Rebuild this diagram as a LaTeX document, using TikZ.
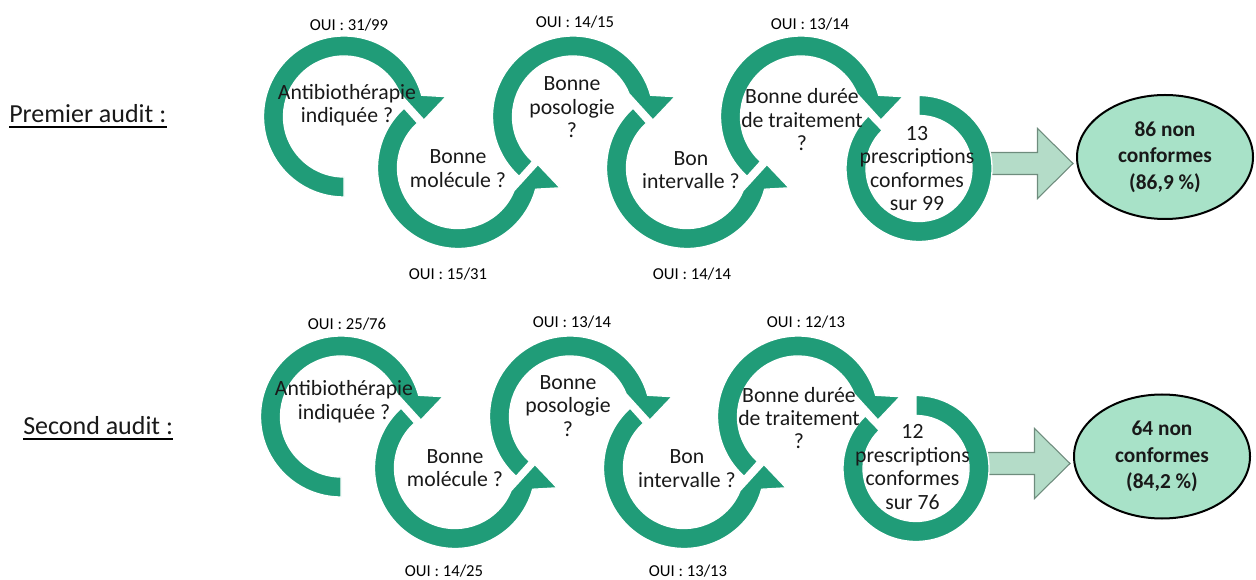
\documentclass[tikz,border=0pt]{standalone}
\usepackage{fontspec}
\setmainfont{Carlito}
\usepackage{tikz}
\usetikzlibrary{positioning, shapes}
\definecolor{ringgreen}{RGB}{32,156,120}
\definecolor{lightgreen}{RGB}{168,226,200}
\definecolor{arrowgreen}{RGB}{180,220,200}
\definecolor{arrowline}{RGB}{110,140,125}
\definecolor{textgray}{RGB}{25,25,25}

\begin{document}
\begin{tikzpicture}[x=0.75pt, y=0.75pt,
	ring/.style={fill=ringgreen, draw=white, line width=1pt},
	question/.style={align=center, text=textgray, font=\fontsize{16.3}{17.6}\selectfont, inner sep=0pt},
	yes/.style={text=black, font=\fontsize{12.5}{14}\selectfont, inner sep=0pt},
	audit/.style={text=textgray, font=\fontsize{19.5}{22}\selectfont, inner sep=0pt},
	result/.style={ellipse, draw=black, line width=1.5pt, fill=lightgreen, align=center, text=textgray,
		font=\fontsize{16}{20}\selectfont\bfseries, minimum width=132pt, minimum height=93pt, inner sep=0pt},
	bigarrow/.style={fill=arrowgreen, draw=arrowline, line width=0.8pt}]

\useasboundingbox (0,0) rectangle (1256,-580);

\def \ro{80.5} % outer radius
\def \ri{60.5} % inner radius
\def \rh{104}  % arrow head, outer corner
\def \rt{80}   % arrow head, tip

% #1 centre, #2 angle of the cut end
\newcommand{\cwring}[2]{
	\fill[ring, shift={(#1)}] (#2:\ro) arc[start angle=#2, end angle=15.3, radius=\ro]
		-- (11:\rh) -- (-2.5:\rt) -- (22:\ri) arc[start angle=22, end angle=#2, radius=\ri] -- cycle;
}
\newcommand{\ccwring}[2]{
	\fill[ring, shift={(#1)}] (#2:\ro) arc[start angle=#2, end angle=344.7, radius=\ro]
		-- (349:\rh) -- (362.5:\rt) -- (338:\ri) arc[start angle=338, end angle=#2, radius=\ri] -- cycle;
}

\foreach \row/\dx/\dy in {1/0/0, 2/-3/300} {
	\coordinate (c\row-1) at (344+\dx, -116.5-\dy);
	\coordinate (c\row-2) at (458+\dx, -168-\dy);
	\coordinate (c\row-3) at (573+\dx, -116.5-\dy);
	\coordinate (c\row-4) at (687+\dx, -168-\dy);
	\coordinate (c\row-5) at (801+\dx, -116.5-\dy);
	\coordinate (c\row-6) at (919+\dx, -168.5-\dy);
	\draw[bigarrow, shift={(c\row-6)}] (70,16) -- (118.5,16) -- (118.5,40) -- (154,5)
		-- (118.5,-30) -- (118.5,-6) -- (70,-6) -- cycle; % block arrow
	\cwring{c\row-1}{270}
	\ccwring{c\row-2}{132}
	\cwring{c\row-3}{228}
	\ccwring{c\row-4}{132}
	\cwring{c\row-5}{228}
	\fill[ring, shift={(c\row-6)}] (90:73) arc[start angle=90, end angle=-226, radius=73]
		-- (-226:53) arc[start angle=-226, end angle=90, radius=53] -- cycle; % last ring
}

% first audit
\node[audit, anchor=base west] (p1) at (9,-123) {Premier audit :};
\draw[line width=1.5pt] ([yshift=-3pt]p1.base west) -- ([yshift=-3pt]p1.base east);

\node[question] (t1-1) at (347,-105) {Antibiothérapie\\indiquée ?};
\node[question] (t1-2) at (458,-168.5) {Bonne\\molécule ?};
\node[question] (t1-3) at (572,-107.5) {Bonne\\posologie\\?};
\node[question] (t1-4) at (691,-170) {Bon\\intervalle ?};
\node[question] (t1-5) at (802,-120) {Bonne durée\\de traitement\\?};
\node[question] (t1-6) at (917,-168.5) {13\\prescriptions\\conformes\\sur 99};

\node[yes] (y1-1) at (349,-25) {OUI : 31/99};
\node[yes] (y1-2) at (448,-274) {OUI : 15/31};
\node[yes] (y1-3) at (575,-22) {OUI : 14/15};
\node[yes] (y1-4) at (692,-274) {OUI : 14/14};
\node[yes] (y1-5) at (810,-24) {OUI : 13/14};

\node[result] (res1) at ([shift={(246,11.5)}]c1-6) {86 non\\conformes\\(86,9 \%)};

% second audit
\node[audit, anchor=base west] (p2) at (23,-435) {Second audit :};
\draw[line width=1.5pt] ([yshift=-3pt]p2.base west) -- ([yshift=-3pt]p2.base east);

\node[question] (t2-1) at (344,-401.5) {Antibiothérapie\\indiquée ?};
\node[question] (t2-2) at (455,-468) {Bonne\\molécule ?};
\node[question] (t2-3) at (568,-406) {Bonne\\posologie\\?};
\node[question] (t2-4) at (687,-468.5) {Bon\\intervalle ?};
\node[question] (t2-5) at (799,-418) {Bonne durée\\de traitement\\?};
\node[question] (t2-6) at (912.5,-467) {12\\prescriptions\\conformes\\sur 76};

\node[yes] (y2-1) at (347,-324) {OUI : 25/76};
\node[yes] (y2-2) at (444,-571) {OUI : 14/25};
\node[yes] (y2-3) at (572,-322) {OUI : 13/14};
\node[yes] (y2-4) at (688,-571) {OUI : 13/13};
\node[yes] (y2-5) at (806,-322) {OUI : 12/13};

\node[result] (res2) at ([shift={(246,12)}]c2-6) {64 non\\conformes\\(84,2 \%)};

\end{tikzpicture}
\end{document}
